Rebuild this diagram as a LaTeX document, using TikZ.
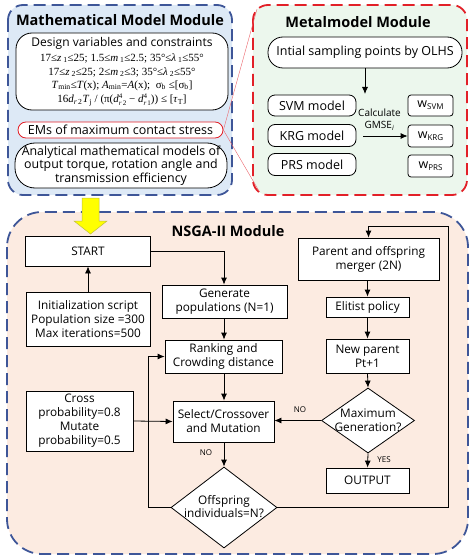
\documentclass[tikz,border=0pt]{standalone}
\usepackage{fontspec}
\setmainfont{Open Sans}
\newfontfamily\tms{Liberation Serif}
\usetikzlibrary{arrows.meta,shapes.geometric}
\definecolor{bluebd}{RGB}{62,86,152}
\definecolor{bluefl}{RGB}{221,233,246}
\definecolor{redbd}{RGB}{226,32,40}
\definecolor{greenfl}{RGB}{236,247,237}
\definecolor{peachfl}{RGB}{252,235,225}
\definecolor{yel}{RGB}{255,255,0}
\newcommand{\sbx}[1]{\textsubscript{#1}}
\newcommand{\supsub}[2]{\rlap{\raisebox{0.75ex}{\fontsize{7}{7}\selectfont #1}}\raisebox{-0.55ex}{\fontsize{7}{7}\selectfont #2}}
\newcommand{\wsub}[1]{w\raisebox{-0.35ex}{\fontsize{8}{9}\selectfont #1}}
\begin{document}
\begin{tikzpicture}[x=1pt,y=-1pt,
  module/.style={line width=1.8pt, dash pattern=on 12pt off 6pt},
  modtitle/.style={font=\fontsize{14.5}{16}\bfseries},
  rbox/.style={draw, line width=0.8pt, fill=white, align=center, inner sep=0pt, font=\fontsize{12.5}{14}\selectfont},
  sbox/.style={draw, line width=0.8pt, fill=white, align=center, inner sep=0pt, font=\fontsize{11.8}{14}\selectfont},
  dia/.style={draw, line width=0.8pt, fill=white, shape=diamond, inner sep=0pt},
  txt/.style={align=center, inner sep=0pt, font=\fontsize{11.8}{13.5}\selectfont},
  mth/.style={inner sep=0pt, font=\tms\fontsize{11}{13}\selectfont},
  small/.style={inner sep=0pt, font=\fontsize{8}{9}\selectfont},
  arr/.style={line width=0.8pt, -{Latex[length=7pt,width=6pt]}},
  ln/.style={line width=0.8pt}
]
\useasboundingbox (0,0) rectangle (474,559);
% module backgrounds
\draw[module, draw=bluebd, fill=bluefl, rounded corners=15pt] (8,5) rectangle (232,195);
\draw[module, draw=redbd, fill=greenfl, rounded corners=15pt] (253,5) rectangle (467,195);
\draw[module, draw=bluebd, fill=peachfl, rounded corners=35pt] (7,212) rectangle (468,554);

% Mathematical model module
\node[modtitle] (mt) at (120,20) {Mathematical Model Module};
\node[draw, line width=0.8pt, fill=white, rounded corners=16pt, minimum width=212pt, minimum height=77pt, inner sep=0pt] (dvbox) at (122,71.5) {};
\node[txt, font=\fontsize{12}{13}\selectfont] (dv) at (122,43) {Design variables and constraints};
\node[mth] (l1) at (122,58) {17≤\textit{z}\,\sbx{1}≤25; 1.5≤\textit{m}\,\sbx{1}≤2.5; 35°≤\textit{λ}\,\sbx{1}≤55°};
\node[mth] (l2) at (122,72) {17≤\textit{z}\,\sbx{2}≤25; 2≤\textit{m}\,\sbx{2}≤3; 35°≤\textit{λ}\,\sbx{2}≤55°};
\node[mth] (l3) at (122,85.5) {\textit{T}\sbx{min}≤\textit{T}(x); \textit{A}\sbx{min}=\textit{A}(x);\ \ σ\sbx{b} ≤[σ\sbx{b}]};
\node[mth] (l4) at (122,100) {16\textit{d}\sbx{\textit{r}\,2}\textit{T}\sbx{j} / (π(\textit{d}\supsub{4}{\textit{r}\,2} − \textit{d}\supsub{4}{\textit{r}\,1})) ≤ [\textit{τ}\sbx{T}]};
\node[draw=redbd, line width=0.8pt, fill=white, rounded corners=8pt, minimum width=205pt, minimum height=16pt, inner sep=0pt, font=\fontsize{12.5}{13}\selectfont] (ems) at (120.5,130) {EMs of maximum contact stress};
\node[draw, line width=0.8pt, fill=white, rounded corners=20pt, minimum width=212pt, minimum height=45pt, inner sep=0pt, align=center, font=\fontsize{12.4}{13.5}\selectfont] (ana) at (121,165.5) {Analytical mathematical models of\\output torque, rotation angle and\\transmission efficiency};

% Metamodel module
\node[modtitle] (mmt) at (358,22) {Metalmodel Module};
\node[rbox, rounded corners=15pt, minimum width=194pt, minimum height=31pt] (samp) at (365,52.5) {Intial sampling points by OLHS};
\coordinate (calctop) at (365,94);
\draw[arr] (samp.south -| calctop) -- (calctop);
\node[rbox, rounded corners=7pt, minimum width=88pt, minimum height=21pt] (svm) at (312,105.5) {SVM model};
\node[rbox, rounded corners=7pt, minimum width=88pt, minimum height=22pt] (krg) at (312,135.5) {KRG model};
\node[rbox, rounded corners=7pt, minimum width=88pt, minimum height=22pt] (prs) at (312,164.5) {PRS model};
\node[rbox, rounded corners=3pt, minimum width=45pt, minimum height=21pt] (wsvm) at (430.5,105.5) {\wsub{SVM}};
\node[rbox, rounded corners=3pt, minimum width=45pt, minimum height=22pt] (wkrg) at (430.5,136) {\wsub{KRG}};
\node[rbox, rounded corners=3pt, minimum width=45pt, minimum height=22pt] (wprs) at (430.5,166) {\wsub{PRS}};
\node[inner sep=0pt, font=\fontsize{10}{11}\selectfont] (calc) at (379.5,113) {Calculate};
\node[inner sep=0pt, font=\fontsize{10}{11}\selectfont] (gmse) at (379.5,126) {GMSE\textsubscript{\textit{i}}};
\coordinate (ga) at (363,136);
\draw[arr] (ga) -- (wkrg.west);
% callout lines
\coordinate (mmtl) at (257,9);
\coordinate (mmbl) at (259,191);
\draw[redbd!70, line width=0.4pt] (ems.east) -- (mmtl);
\draw[redbd!70, line width=0.4pt] (ems.east) -- (mmbl);

% yellow arrow
\draw[fill=yel, draw=yel!50!gray, line width=0.5pt] (82,198) -- (99,198) -- (99,221) -- (107,221) -- (90.5,234) -- (74,221) -- (82,221) -- cycle;

% NSGA-II module
\node[modtitle] (nt) at (228,231) {NSGA-II Module};
\node[sbox, minimum width=125pt, minimum height=30pt] (start) at (88,251) {START};
\node[sbox, minimum width=124pt, minimum height=54pt] (init) at (88,319) {Initialization script\\Population size =300\\Max iterations=500};
\node[sbox, minimum width=125pt, minimum height=33pt] (gen) at (224.5,301.5) {Generate\\populations (N=1)};
\node[sbox, minimum width=117pt, minimum height=33pt] (rank) at (223.5,356.5) {Ranking and\\Crowding distance};
\node[sbox, minimum width=107pt, minimum height=60pt] (cross) at (79.5,421) {Cross\\probability=0.8\\Mutate\\probability=0.5};
\node[sbox, minimum width=101pt, minimum height=41pt] (sel) at (223.5,421.5) {Select/Crossover\\and Mutation};
\node[dia, minimum width=106pt, minimum height=81pt] (off) at (224,507.5) {};
\node[txt] (offt) at (224,506.5) {Offspring\\individuals=N?};
\node[sbox, minimum width=141pt, minimum height=42pt] (par) at (368.5,259) {Parent and offspring\\merger (2N)};
\node[sbox, minimum width=83pt, minimum height=20pt] (eli) at (367.5,307) {Elitist policy};
\node[sbox, minimum width=83pt, minimum height=34pt] (newp) at (367.5,356) {New parent\\Pt+1};
\node[dia, minimum width=93pt, minimum height=65pt] (maxg) at (368,420.5) {};
\node[txt] (maxgt) at (368,420) {Maximum\\Generation?};
\node[sbox, minimum width=83pt, minimum height=25pt] (out) at (367.5,480.5) {OUTPUT};

% connectors
\draw[arr] (init.north) -- (start.south);
\draw[arr] (start.east) -| (gen.north -| 224,0);
\draw[arr] (gen.south -| 224,0) -- (rank.north -| 224,0);
\draw[arr] (rank.south -| 224,0) -- (sel.north -| 224,0);
\draw[arr] (cross.east) -- (sel.west);
\draw[arr] (sel.south -| off.north) -- (off.north);
\node[small] (no1) at (206,453) {NO};
\draw[arr] (off.west) -- (148,507.5) -- (148,356.5) -- (rank.west);
\draw[arr] (off.east) -- (448,507.5) -- (448,226) -- (368.5,226) -- (par.north);
\draw[arr] (par.south -| eli.north) -- (eli.north);
\draw[arr] (eli.south) -- (newp.north);
\draw[arr] (newp.south) -- (maxg.north);
\draw[arr] (maxg.west) -- (sel.east |- maxg.west);
\node[small] (no2) at (300,410) {NO};
\draw[arr] (maxg.south) -- (out.north);
\node[small] (yes) at (384,460) {YES};
\end{tikzpicture}
\end{document}
